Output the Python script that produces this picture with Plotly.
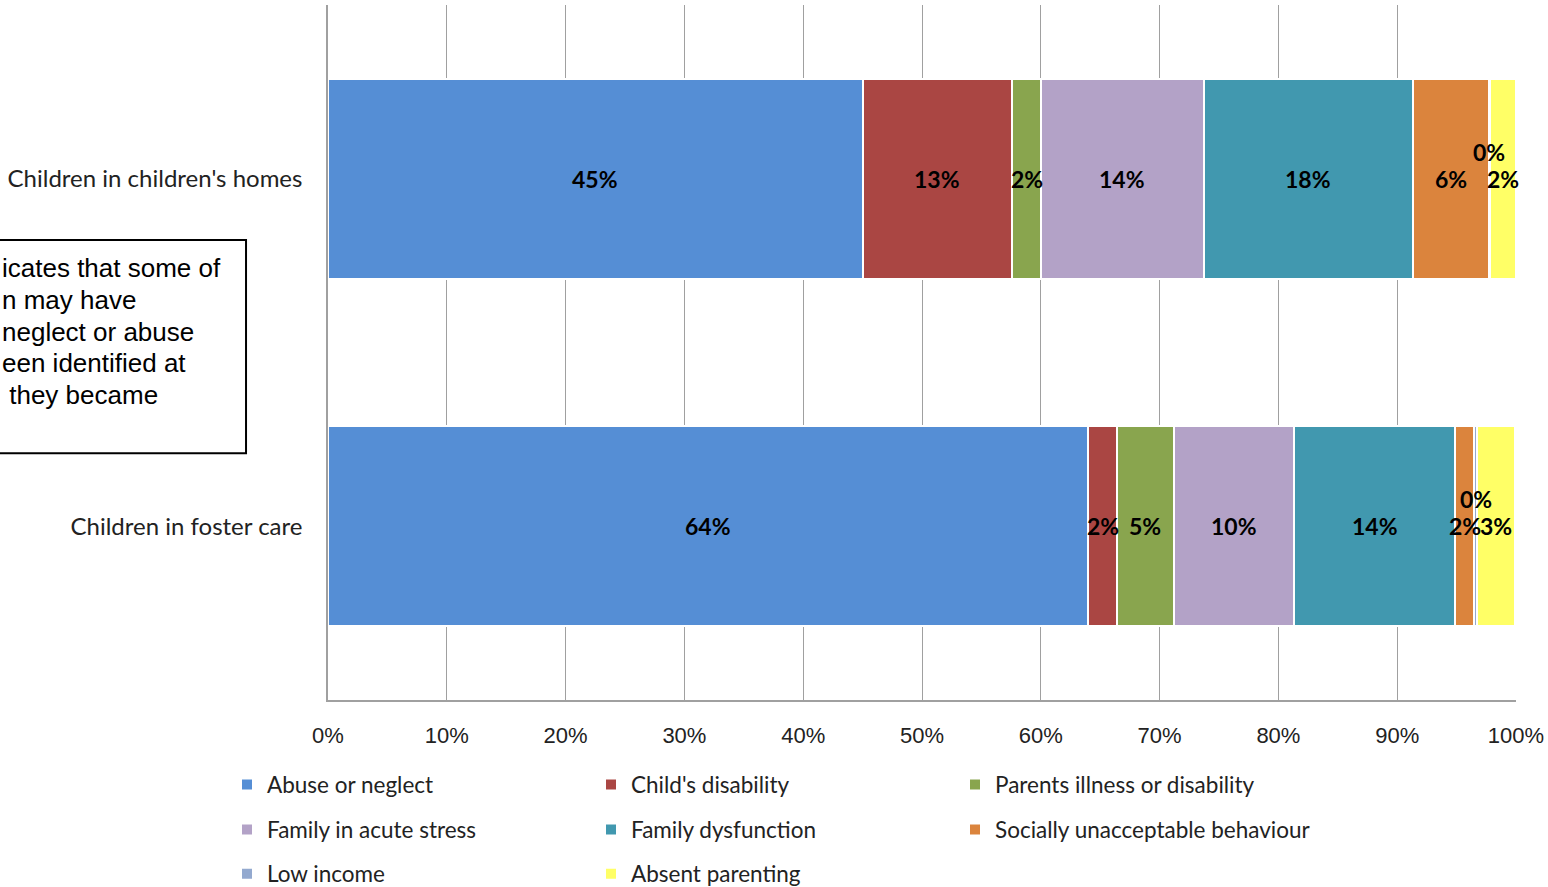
import plotly.graph_objects as go

categories = ["Children in foster care", "Children in children's homes"]
series_names = ["Abuse or neglect", "Child's disability", "Parents illness or disability",
                "Family in acute stress", "Family dysfunction", "Socially unacceptable behaviour",
                "Low income", "Absent parenting"]
# percentages: [foster care, children's homes]
abuse = [64.0, 45.0]
disability = [2.4, 12.6]
parents_illness = [4.8, 2.4]
acute_stress = [10.1, 13.7]
dysfunction = [13.6, 17.6]
socially = [1.6, 6.4]
low_income = [0.2, 0.1]
absent = [3.2, 2.2]
x_ticks = [0, 10, 20, 30, 40, 50, 60, 70, 80, 90, 100]
x_tick_labels = [f"{t}%" for t in x_ticks]
box_lines = ["icates that some of", "n may have", "neglect or abuse", "een identified at", " they became"]

values = [abuse, disability, parents_illness, acute_stress, dysfunction, socially, low_income, absent]
colors = ["#558ED5", "#AA4643", "#89A54E", "#B3A2C7", "#4198AF", "#DB843D", "#93A9CF", "#FFFF66"]
legend_ids = ["legend", "legend", "legend", "legend2", "legend2", "legend2", "legend3", "legend3"]

LABEL_FONT = "Lato"
GRID = "#A0A0A0"

fig = go.Figure()
for name, vals, col, lg in zip(series_names, values, colors, legend_ids):
    fig.add_trace(go.Bar(
        y=categories, x=vals, name=name, orientation="h",
        marker=dict(color=col, line=dict(color="white", width=2)),
        width=0.575, legend=lg, textposition="none", hoverinfo="x+name",
    ))

# data labels at segment centres
for ci, cat in enumerate(categories):
    cum = 0.0
    for si, vals in enumerate(values):
        v = vals[ci]
        center = cum + v / 2
        cum += v
        fig.add_annotation(
            x=center, y=cat, xref="x", yref="y",
            text=f"<b>{round(v):d}%</b>", showarrow=False,
            font=dict(family=LABEL_FONT, size=23, color="black"),
            yshift=27 if series_names[si] == "Low income" else 0,
        )

fig.update_layout(
    width=1548, height=887,
    margin=dict(l=328, r=32, t=5, b=187, autoexpand=False),
    paper_bgcolor="white", plot_bgcolor="white",
    barmode="stack",
    showlegend=True,
    font=dict(family=LABEL_FONT, size=20, color="#222222"),
    xaxis=dict(range=[0, 100], tickvals=x_ticks, ticktext=x_tick_labels,
               showgrid=True, gridcolor=GRID, gridwidth=1,
               showline=True, linecolor=GRID, linewidth=1.5,
               zeroline=False, ticks="", ticklabelstandoff=15, automargin=False,
               tickfont=dict(family="Liberation Sans", size=22, color="#222222"), fixedrange=True),
    yaxis=dict(range=[-0.5, 1.5], showgrid=False, showline=True, linecolor=GRID,
               linewidth=1.5, ticks="", ticklabelstandoff=19, automargin=False,
               tickfont=dict(family=LABEL_FONT, size=24, color="#222222"), fixedrange=True),
)

legend_common = dict(orientation="h", x=-0.085, xanchor="left", yanchor="middle",
                     entrywidth=319, entrywidthmode="pixels",
                     font=dict(family=LABEL_FONT, size=22.5, color="#222222"),
                     bgcolor="rgba(0,0,0,0)", traceorder="normal")
fig.update_layout(
    legend=dict(y=-0.1223, **legend_common),
    legend2=dict(y=-0.187, **legend_common),
    legend3=dict(y=-0.2504, **legend_common),
)

# text box (partly cut off on the left)
fig.add_shape(type="rect", xref="paper", yref="paper",
              x0=-0.30, x1=-0.069, y0=0.355, y1=0.662,
              line=dict(color="black", width=2), fillcolor="white", layer="above")
line_y0 = (700 - 268) / 695
line_step = 31.75 / 695
for i, ln in enumerate(box_lines):
    fig.add_annotation(
        xref="paper", yref="paper", x=-0.2761, y=line_y0 - i * line_step,
        xanchor="left", yanchor="middle", align="left", showarrow=False,
        text=ln.replace(" ", "&nbsp;", 1) if ln.startswith(" ") else ln,
        font=dict(family="Liberation Sans", size=26, color="black"),
    )

fig.write_html("out.html", config={"displayModeBar": False},
               post_script="document.body.style.margin='0';document.body.style.padding='0';")
